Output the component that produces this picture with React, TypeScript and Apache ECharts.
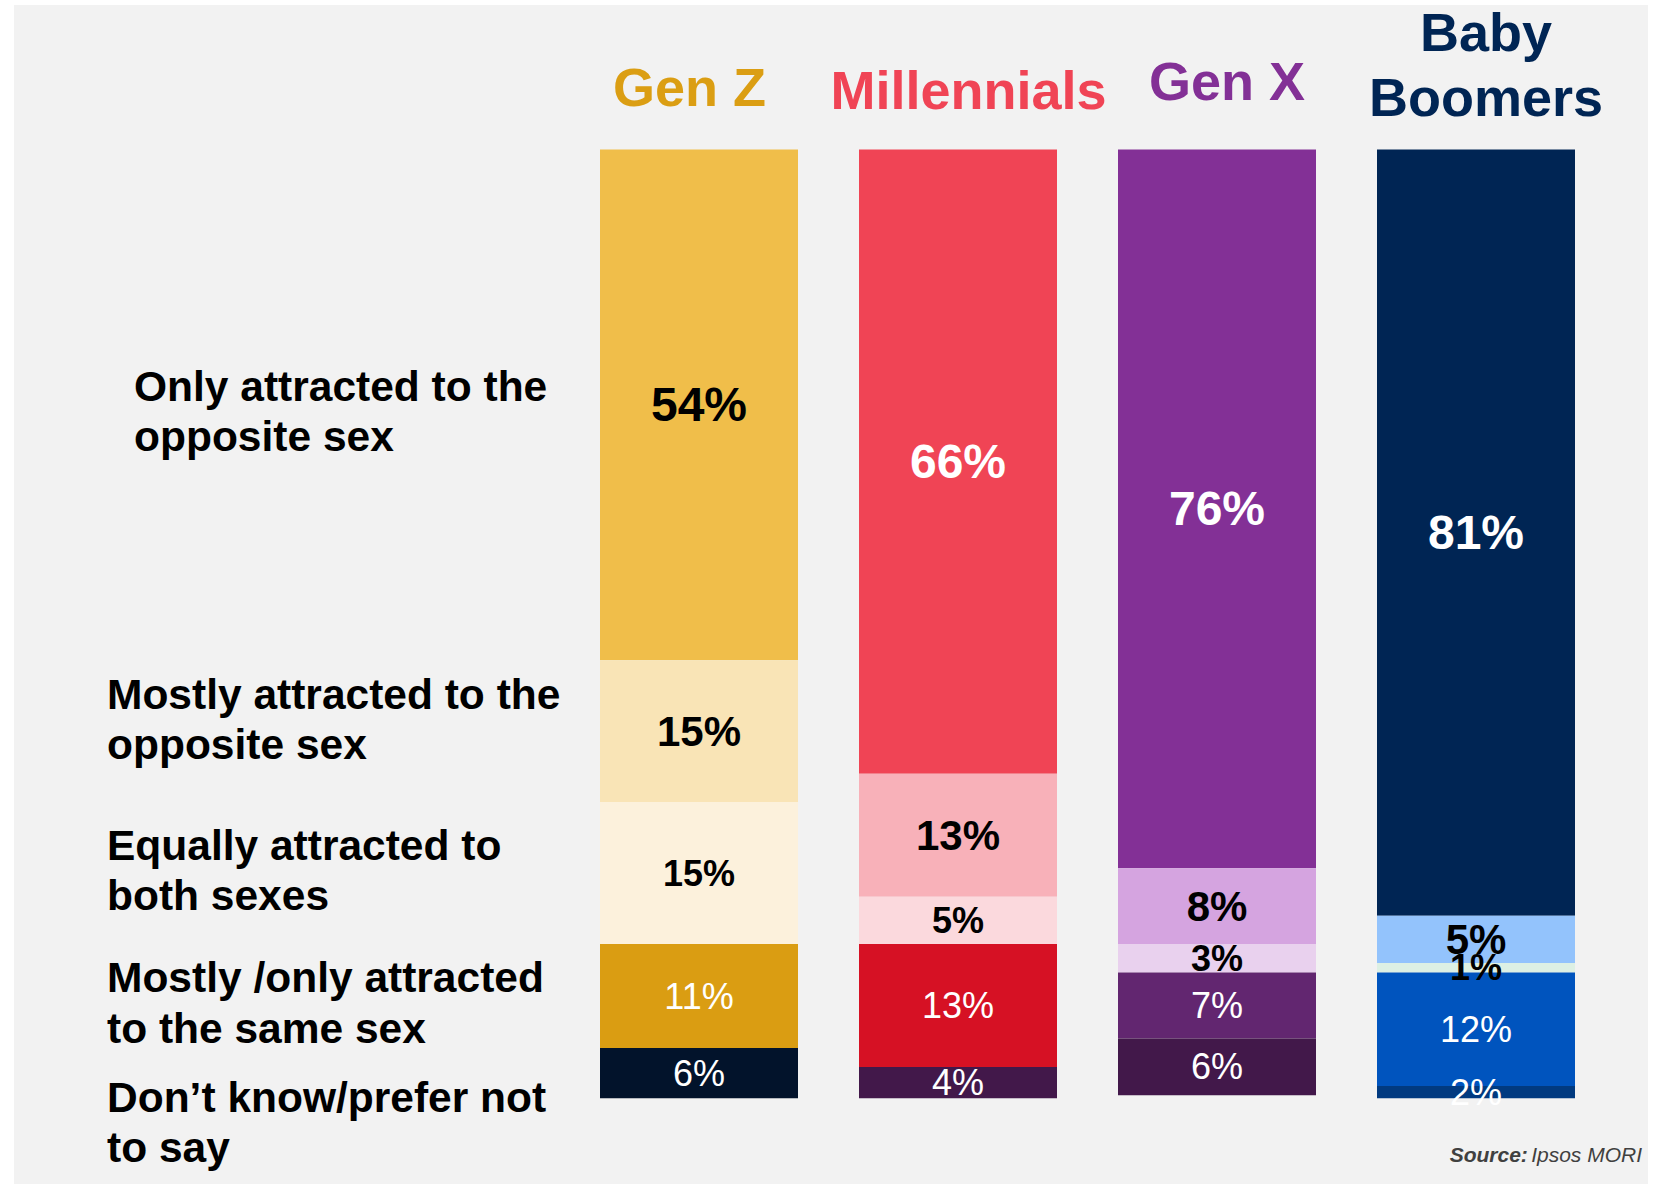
import React, { useEffect, useRef } from "react";
import * as echarts from "echarts";

// ---- Data ----
const generations = ["Gen Z", "Millennials", "Gen X", "Baby Boomers"];
const responses = [
  "Only attracted to the opposite sex",
  "Mostly attracted to the opposite sex",
  "Equally attracted to both sexes",
  "Mostly /only attracted to the same sex",
  "Don’t know/prefer not to say",
];
const onlyOpposite = [54, 66, 76, 81];
const mostlyOpposite = [15, 13, 8, 5];
const equallyBoth = [15, 5, 3, 1];
const sameSex = [11, 13, 7, 12];
const dontKnow = [6, 4, 6, 2];
const seriesValues = [onlyOpposite, mostlyOpposite, equallyBoth, sameSex, dontKnow];

// wrapped row labels as shown on the left
const responseLabelLines = [
  ["Only attracted to the", "opposite sex"],
  ["Mostly attracted to the", "opposite sex"],
  ["Equally attracted to", "both sexes"],
  ["Mostly /only attracted", "to the same sex"],
  ["Don’t know/prefer not", "to say"],
];
const headerLines = [["Gen Z"], ["Millennials"], ["Gen X"], ["Baby", "Boomers"]];
const sourceLabel = "Source:";
const sourceName = "Ipsos MORI";

// ---- Styles ----
const FONT = "'Liberation Sans', Arial, Helvetica, sans-serif";
const genColors = [
  ["#F0BE4A", "#F9E4B6", "#FCF1DC", "#DA9D12", "#02132B"],
  ["#F04455", "#F8B1B9", "#FBD9DD", "#D61124", "#42184A"],
  ["#833096", "#D5A4E0", "#E9D1EE", "#622670", "#42184A"],
  ["#002554", "#93C3FC", "#DDF0E4", "#0054BE", "#013A80"],
];
const headerColors = ["#DB9E13", "#F04455", "#833096", "#002554"];
const headerPos = [
  { x: 689.5, base: [106] },
  { x: 968.5, base: [109] },
  { x: 1227, base: [100] },
  { x: 1486, base: [51, 116] },
];
const labelStyles = [
  { fontSize: 48, fontWeight: "bold", color: "#FFFFFF" },
  { fontSize: 42, fontWeight: "bold", color: "#000000" },
  { fontSize: 36, fontWeight: "bold", color: "#000000" },
  { fontSize: 36, fontWeight: "normal", color: "#FFFFFF" },
  { fontSize: 36, fontWeight: "normal", color: "#FFFFFF" },
];
const rowLabelPos = [
  { x: 134, base: [401.7, 451.7] },
  { x: 107, base: [709.3, 759.3] },
  { x: 107, base: [860, 910] },
  { x: 107, base: [992.7, 1043.3] },
  { x: 107, base: [1112.7, 1162.7] },
];

const CENTRAL = 0.3465; // offset of central baseline from alphabetic, in em

export default function App() {
  const ref = useRef<HTMLDivElement>(null);

  useEffect(() => {
    if (!ref.current) return;
    const chart = echarts.init(ref.current, undefined, { renderer: "svg" });

    const series = seriesValues.map((vals, si) => ({
      name: responses[si],
      type: "bar",
      stack: "total",
      barWidth: 198,
      clip: true,
      label: {
        show: true,
        position: "inside",
        formatter: "{c}%",
        fontFamily: FONT,
        fontSize: labelStyles[si].fontSize,
        fontWeight: labelStyles[si].fontWeight,
        color: labelStyles[si].color,
      },
      data: vals.map((v, gi) => ({
        value: v,
        itemStyle: { color: genColors[gi][si] },
        label: si === 0 && gi === 0 ? { color: "#000000" } : undefined,
      })),
    }));

    const graphics: any[] = [
      {
        type: "rect",
        z: -10,
        silent: true,
        shape: { x: 14, y: 5, width: 1634, height: 1179 },
        style: { fill: "#F2F2F2" },
      },
    ];

    headerLines.forEach((lines, i) => {
      const fs = 54;
      lines.forEach((t, li) => {
        graphics.push({
          type: "text",
          x: headerPos[i].x,
          y: headerPos[i].base[li] - CENTRAL * fs,
          style: {
            text: t,
            fill: headerColors[i],
            font: `bold ${fs}px ${FONT}`,
            align: "center",
            verticalAlign: "middle",
          },
        });
      });
    });

    responseLabelLines.forEach((lines, i) => {
      const fs = 42.5;
      lines.forEach((t, li) => {
        graphics.push({
          type: "text",
          x: rowLabelPos[i].x,
          y: rowLabelPos[i].base[li] - CENTRAL * fs,
          style: {
            text: t,
            fill: "#000000",
            font: `bold ${fs}px ${FONT}`,
            align: "left",
            verticalAlign: "middle",
          },
        });
      });
    });

    graphics.push({
      type: "text",
      x: 1642,
      y: 1162 - CENTRAL * 21,
      style: {
        text: `{b|${sourceLabel}} {i|${sourceName}}`,
        align: "right",
        verticalAlign: "middle",
        rich: {
          b: { fontFamily: FONT, fontSize: 21, fontWeight: "bold", fontStyle: "italic", fill: "#404040", color: "#404040" },
          i: { fontFamily: FONT, fontSize: 21, fontStyle: "italic", fill: "#404040", color: "#404040" },
        },
      },
    });

    chart.setOption({
      animation: false,
      backgroundColor: "#FFFFFF",
      grid: { left: 569.5, top: 149.4, width: 1036, height: 948.8 },
      xAxis: {
        type: "category",
        data: generations,
        show: false,
      },
      yAxis: {
        type: "value",
        inverse: true,
        min: 0,
        max: 100.3,
        show: false,
        splitLine: { show: false },
      },
      graphic: graphics,
      series,
    });

    return () => chart.dispose();
  }, []);

  return (
    <div
      ref={ref}
      style={{ position: "fixed", left: 0, top: 0, width: 1661, height: 1184 }}
    />
  );
}
